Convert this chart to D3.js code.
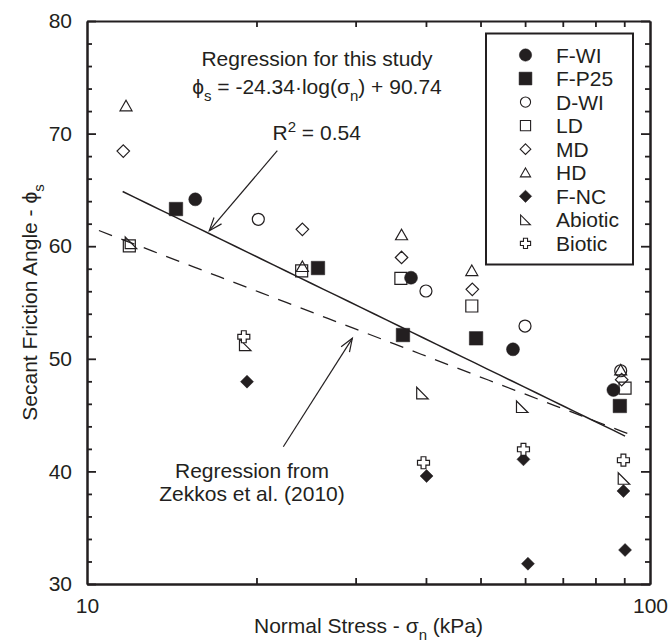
<!DOCTYPE html>
<html><head><meta charset="utf-8">
<script src="https://cdn.jsdelivr.net/npm/d3@7"></script>
<style>
html,body{margin:0;padding:0;background:#fff;}
svg text{font-family:"Liberation Sans",Arial,sans-serif;fill:#231f20;}
</style></head>
<body><svg id="c" width="668" height="643"></svg>
<script>
// ---- data ----
const seriesNames = ["F-WI","F-P25","D-WI","LD","MD","HD","F-NC","Abiotic","Biotic"];
const fwiX = [15.57, 37.63, 57.1, 86.1];
const fwiY = [64.16, 57.2, 50.84, 47.23];
const fp25X = [14.39, 25.72, 36.41, 49.1, 88.4];
const fp25Y = [63.3, 58.06, 52.11, 51.82, 45.81];
const dwiX = [20.15, 40.0, 59.98, 88.7];
const dwiY = [62.39, 56.02, 52.91, 48.94];
const ldX = [11.89, 24.06, 36.1, 48.25, 90.3];
const ldY = [60.02, 57.8, 57.15, 54.69, 47.4];
const mdX = [11.60, 24.13, 36.2, 48.35, 89.06];
const mdY = [68.45, 61.5, 59.0, 56.17, 48.15];
const hdX = [11.73, 24.13, 36.2, 48.25, 88.7];
const hdY = [72.45, 58.18, 61.0, 57.82, 49.0];
const fncX = [19.24, 40.1, 59.6, 60.7, 89.7, 90.3];
const fncY = [47.97, 39.59, 41.07, 31.8, 38.26, 33.02];
const abioticX = [11.97, 19.1, 39.43, 59.3, 89.9];
const abioticY = [60.3, 51.23, 46.96, 45.74, 39.37];
const bioticX = [18.99, 39.6, 59.6, 89.7];
const bioticY = [51.96, 40.77, 41.96, 41.0];
// regression lines: phi = a*log10(sigma) + b
const thisStudy = {a: -24.34, b: 90.74, from: 11.57, to: 90.3};
const zekkos = {a: -19.2, b: 81.0, from: 10.5, to: 94.4};
const xMajorTicks = [10, 100];
const xMinorTicks = [20, 30, 40, 50, 60, 70, 80, 90];
const yMajorTicks = [30, 40, 50, 60, 70, 80];
const yMinorTicks = [32,34,36,38,42,44,46,48,52,54,56,58,62,64,66,68,72,74,76,78];

// ---- layout ----
const L = 87, R = 650, T = 21, B = 584;
const ink = "#231f20";
const FS = 21, SFS = 15;
const svg = d3.select("#c");
const x = d3.scaleLog().domain([10, 100]).range([L, R]);
const y = d3.scaleLinear().domain([30, 80]).range([B, T]);

function styleAxis(g){
  g.selectAll("path.domain").attr("stroke", ink).attr("stroke-width", 2);
  g.selectAll(".tick line").attr("stroke", ink).attr("stroke-width", 1.8);
  g.selectAll(".tick text").attr("font-size", FS).attr("fill", ink)
    .attr("font-family", '"Liberation Sans",Arial,sans-serif');
}
// left
svg.append("g").attr("transform", `translate(${L},0)`)
  .call(d3.axisLeft(y).tickValues(yMajorTicks).tickSize(-9).tickSizeOuter(0).tickPadding(15).tickFormat(d3.format("d")))
  .call(styleAxis);
svg.append("g").attr("transform", `translate(${L},0)`)
  .call(d3.axisLeft(y).tickValues(yMinorTicks).tickSize(-5).tickSizeOuter(0).tickFormat(""))
  .call(styleAxis);
// right
svg.append("g").attr("transform", `translate(${R},0)`)
  .call(d3.axisRight(y).tickValues(yMajorTicks).tickSize(-9).tickSizeOuter(0).tickFormat(""))
  .call(styleAxis);
svg.append("g").attr("transform", `translate(${R},0)`)
  .call(d3.axisRight(y).tickValues(yMinorTicks).tickSize(-5).tickSizeOuter(0).tickFormat(""))
  .call(styleAxis);
// bottom
svg.append("g").attr("transform", `translate(0,${B})`)
  .call(d3.axisBottom(x).tickValues(xMajorTicks).tickSize(0).tickSizeOuter(0).tickPadding(14).tickFormat(d3.format("d")))
  .call(styleAxis);
svg.append("g").attr("transform", `translate(0,${B})`)
  .call(d3.axisBottom(x).tickValues(xMinorTicks).tickSize(-6).tickSizeOuter(0).tickFormat(""))
  .call(styleAxis);
// top
svg.append("g").attr("transform", `translate(0,${T})`)
  .call(d3.axisTop(x).tickValues(xMinorTicks).tickSize(-6).tickSizeOuter(0).tickFormat(""))
  .call(styleAxis);

// ---- regression lines ----
function regPts(r){
  const n = 40, pts = [];
  const l0 = Math.log10(r.from), l1 = Math.log10(r.to);
  for (let i = 0; i <= n; i++){ const lv = l0 + (l1 - l0) * i / n; pts.push([Math.pow(10, lv), r.a * lv + r.b]); }
  return pts;
}
const line = d3.line().x(d => x(d[0])).y(d => y(d[1]));
svg.append("path").attr("d", line(regPts(zekkos))).attr("fill", "none")
  .attr("stroke", ink).attr("stroke-width", 1.3).attr("stroke-dasharray", "14,10");
svg.append("path").attr("d", line(regPts(thisStudy))).attr("fill", "none")
  .attr("stroke", ink).attr("stroke-width", 1.5);

// ---- markers ----
function shapePath(kind, s){
  const h = s / 2;
  switch(kind){
    case "circle": return `M${h},0A${h},${h} 0 1,1 ${-h},0A${h},${h} 0 1,1 ${h},0Z`;
    case "square": return `M${-h},${-h}H${h}V${h}H${-h}Z`;
    case "diamond": return `M0,${-h}L${h},0L0,${h}L${-h},0Z`;
    case "triangle": return `M0,${-h*0.95}L${h},${h*0.8}L${-h},${h*0.8}Z`;
    case "abiotic": return `M${-h},${-h}L${-h},${h}L${h},${h}Z`;
    case "cross": { const a = s * 0.2;
      return `M${-a},${-h}H${a}V${-a}H${h}V${a}H${a}V${h}H${-a}V${a}H${-h}V${-a}H${-a}Z`; }
  }
}
const seriesDefs = [
  {name:"F-WI", xs:fwiX, ys:fwiY, kind:"circle", filled:true, size:13},
  {name:"F-P25", xs:fp25X, ys:fp25Y, kind:"square", filled:true, size:13.5},
  {name:"D-WI", xs:dwiX, ys:dwiY, kind:"circle", filled:false, size:12},
  {name:"LD", xs:ldX, ys:ldY, kind:"square", filled:false, size:12},
  {name:"MD", xs:mdX, ys:mdY, kind:"diamond", filled:false, size:12.5},
  {name:"HD", xs:hdX, ys:hdY, kind:"triangle", filled:false, size:12},
  {name:"F-NC", xs:fncX, ys:fncY, kind:"diamond", filled:true, size:13},
  {name:"Abiotic", xs:abioticX, ys:abioticY, kind:"abiotic", filled:false, size:11.5},
  {name:"Biotic", xs:bioticX, ys:bioticY, kind:"cross", filled:false, size:12}
];
const drawOrder = ["LD","MD","HD","D-WI","Abiotic","F-NC","Biotic","F-P25","F-WI"];
drawOrder.forEach(nm => {
  const s = seriesDefs.find(d => d.name === nm);
  const pts = s.xs.map((v, i) => [v, s.ys[i]]);
  svg.append("g").selectAll("path").data(pts).join("path")
    .attr("transform", d => `translate(${x(d[0])},${y(d[1])})`)
    .attr("d", shapePath(s.kind, s.size))
    .attr("fill", s.filled ? ink : (s.kind === "cross" ? "#fff" : "none"))
    .attr("stroke", ink).attr("stroke-width", s.filled ? 0.5 : 1.2);
});

// ---- legend ----
const lg = svg.append("g");
lg.append("rect").attr("x", 486).attr("y", 33.5).attr("width", 147).attr("height", 231)
  .attr("fill", "#fff").attr("stroke", ink).attr("stroke-width", 2);
seriesNames.forEach((nm, i) => {
  const s = seriesDefs.find(d => d.name === nm);
  const cy = 55 + i * 23.55;
  lg.append("path").attr("transform", `translate(525.5,${cy})`)
    .attr("d", shapePath(s.kind, s.size * (s.filled ? 0.95 : 0.85)))
    .attr("fill", s.filled ? ink : "none").attr("stroke", ink).attr("stroke-width", s.filled ? 0.5 : 1.1);
  lg.append("text").attr("x", 556).attr("y", cy + 7.5).attr("font-size", FS).text(nm);
});

// ---- annotations ----
svg.append("text").attr("x", 317).attr("y", 66).attr("text-anchor", "middle").attr("font-size", FS)
  .text("Regression for this study");
const eq = svg.append("text").attr("x", 317).attr("y", 94).attr("text-anchor", "middle").attr("font-size", FS);
eq.append("tspan").text("ϕ");
eq.append("tspan").attr("dy", 7).attr("font-size", SFS).text("s");
eq.append("tspan").attr("dy", -7).text(" = -24.34·log(σ");
eq.append("tspan").attr("dy", 7).attr("font-size", SFS).text("n");
eq.append("tspan").attr("dy", -7).text(") + 90.74");
const r2 = svg.append("text").attr("x", 272.5).attr("y", 140).attr("font-size", FS);
r2.append("tspan").text("R");
r2.append("tspan").attr("dy", -8).attr("font-size", SFS).text("2");
r2.append("tspan").attr("dy", 8).text(" = 0.54");
svg.append("text").attr("x", 252).attr("y", 478).attr("text-anchor", "middle").attr("font-size", FS).text("Regression from");
svg.append("text").attr("x", 252).attr("y", 501).attr("text-anchor", "middle").attr("font-size", FS).text("Zekkos et al. (2010)");

// arrows (data coordinates)
const arrowStart1 = [21.78, 68.48], arrowTip1 = [16.49, 61.38];
const arrowStart2 = [22.32, 42.19], arrowTip2 = [29.6, 51.82];
function arrow(p0, p1){
  const x0 = x(p0[0]), y0 = y(p0[1]), x1 = x(p1[0]), y1 = y(p1[1]);
  const ang = Math.atan2(y1 - y0, x1 - x0), len = 14, spread = 0.36;
  const g = svg.append("g").attr("stroke", ink).attr("stroke-width", 1.2).attr("fill", "none");
  g.append("line").attr("x1", x0).attr("y1", y0).attr("x2", x1).attr("y2", y1);
  g.append("path").attr("d",
    `M${x1 - len*Math.cos(ang - spread)},${y1 - len*Math.sin(ang - spread)}L${x1},${y1}L${x1 - len*Math.cos(ang + spread)},${y1 - len*Math.sin(ang + spread)}`);
}
arrow(arrowStart1, arrowTip1);
arrow(arrowStart2, arrowTip2);

// axis titles
const xt = svg.append("text").attr("x", (L + R) / 2).attr("y", 633).attr("text-anchor", "middle").attr("font-size", FS);
xt.append("tspan").text("Normal Stress - σ");
xt.append("tspan").attr("dy", 7).attr("font-size", SFS).text("n");
xt.append("tspan").attr("dy", -7).text(" (kPa)");
const yt = svg.append("text").attr("transform", `translate(37,${(T + B) / 2}) rotate(-90)`)
  .attr("text-anchor", "middle").attr("font-size", FS);
yt.append("tspan").text("Secant Friction Angle - ϕ");
yt.append("tspan").attr("dy", 7).attr("font-size", SFS).text("s");
</script></body></html>
